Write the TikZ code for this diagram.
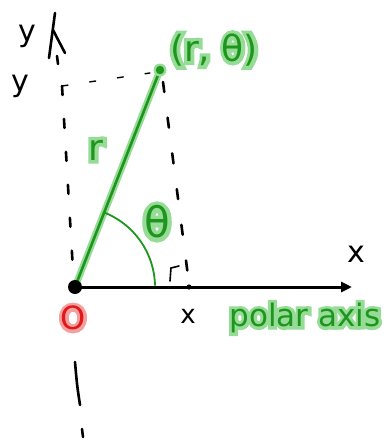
\documentclass[tikz,border=0pt]{standalone}
\usepackage{fontspec}
\setmainfont{DejaVu Sans}
\newfontfamily\halofont[FakeBold=20]{DejaVu Sans}
\usetikzlibrary{arrows.meta}
\definecolor{gdark}{RGB}{30,150,30}
\definecolor{glight}{RGB}{150,220,150}
\definecolor{rdark}{RGB}{225,25,25}
\definecolor{rlight}{RGB}{245,160,160}
\tikzset{
  ink/.style={black, line width=2.6pt, line cap=round},
  dashink/.style={black, line width=2.6pt, line cap=round, dash pattern=on 9pt off 24pt},
  thindash/.style={black, line width=1.4pt, line cap=round, dash pattern=on 6pt off 22pt},
  gunder/.style={glight, line width=7pt, line cap=round},
  gover/.style={gdark, line width=2.6pt, line cap=round},
  lbl/.style={inner sep=0pt, text=black},
  gl/.style={inner sep=0pt, text=glight},
  gd/.style={inner sep=0pt, text=gdark},
}
\begin{document}
\begin{tikzpicture}[x=1pt,y=-1pt]
\useasboundingbox (0,0) rectangle (389,442);
% key points
\coordinate (O) at (75,287);
\coordinate (P) at (160,70);
\coordinate (xend) at (352,287);
\coordinate (yfoot) at (83,437);
\coordinate (ltop) at (62,86);
\coordinate (lbot) at (73,270);
\coordinate (rtop) at (163,82);
\coordinate (rbot) at (188,276);
\coordinate (htop) at (150,73);
% dashed guides
\draw[dashink] (ltop) -- (lbot);
\draw[dashink, dash pattern=on 10pt off 26pt] (rtop) -- (rbot);
\draw[thindash] (ltop) -- (htop);
\draw[ink] (75,362) .. controls (77,385) .. (80,405);
\draw[ink] (82,429) -- (yfoot);
% y axis arrow
\draw[ink] (49,58) -- (55,13);
\draw[ink] (53,30) -- (65,53);
\draw[ink] (57,56) -- (58,64);
% x axis
\draw[black, line width=3pt, -{Triangle[length=11pt,width=10pt]}] (O) -- (xend);
\fill[black] (189,287) circle (2.6pt);
% right-angle mark
\draw[black, line width=1.6pt, line cap=round] (170,281) -- (171,268) -- (179,266);
% radius line with glow
\draw[gunder] (O) -- (P);
\draw[gover] (O) -- (P);
\fill[glight] (P) circle (6.5pt);
\fill[gdark] (P) circle (4.2pt);
% angle arc
\draw[gdark, line width=1.8pt] (O) ++(68.6:80pt) arc[start angle=68.6, end angle=1, radius=80pt];
% origin dot
\fill[black] (O) circle (7pt);
% black labels
\node[lbl, font=\fontsize{30}{30}\selectfont] (ylab1) at (27,36) {y};
\node[lbl, font=\fontsize{30}{30}\selectfont] (ylab2) at (20,86) {y};
\node[lbl, font=\fontsize{30}{30}\selectfont] (xlab1) at (356,254) {x};
\node[lbl, font=\fontsize{26}{26}\selectfont] (xlab2) at (188,316) {x};
% red O with halo
\node[inner sep=0pt, text=rlight, font=\halofont\fontsize{32}{32}\selectfont] (Oh) at (73,318) {O};
\node[inner sep=0pt, text=rdark, font=\fontsize{32}{32}\selectfont] (Olab) at (73,318) {O};
% green labels with halo
\node[gl, font=\halofont\fontsize{36}{36}\selectfont] (Ph) at (214,50) {(r, θ)};
\node[gd, font=\fontsize{36}{36}\selectfont] (Plab) at (214,50) {(r, θ)};
\node[gl, font=\halofont\fontsize{36}{36}\selectfont] (rh) at (96,150) {r};
\node[gd, font=\fontsize{36}{36}\selectfont] (rlab) at (96,150) {r};
\node[gl, font=\halofont\fontsize{42}{42}\selectfont] (th) at (157,222) {θ};
\node[gd, font=\fontsize{42}{42}\selectfont] (tlab) at (157,222) {θ};
\node[gl, font=\halofont\fontsize{31}{31}\selectfont] (pah) at (305,318) {polar axis};
\node[gd, font=\fontsize{31}{31}\selectfont] (palab) at (305,318) {polar axis};
\end{tikzpicture}
\end{document}
